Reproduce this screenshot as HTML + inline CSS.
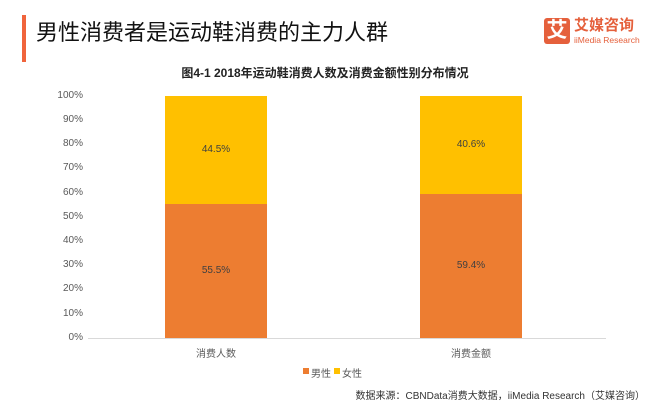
<!DOCTYPE html>
<html><head><meta charset="utf-8"><style>
body{margin:0;width:650px;height:404px;background:#fff;position:relative;overflow:hidden;font-family:"Liberation Sans","Noto Sans CJK SC",sans-serif}
.a{position:absolute}
.yl{position:absolute;right:567px;font-size:10px;color:#595959;line-height:12px}
.dl{position:absolute;width:102px;text-align:center;font-size:10px;color:#404040}
</style></head><body>
<div class="a" style="left:22px;top:15px;width:4px;height:47px;background:#f0643c"></div>
<div class="a" style="left:36px;top:18px;font-size:22px;color:#111;line-height:30px">男性消费者是运动鞋消费的主力人群</div>
<div class="a" style="left:544px;top:18px;width:26px;height:26px;background:#e5603c;border-radius:3px;color:#fff;font-size:21px;line-height:26px;text-align:center;font-weight:bold">艾</div>
<div class="a" style="left:574px;top:17px;font-size:15px;color:#e5603c;line-height:17px;font-weight:bold">艾媒咨询</div>
<div class="a" style="left:574px;top:35px;font-size:8.5px;color:#e5603c;line-height:10px">iiMedia Research</div>
<div class="a" style="left:0;width:650px;top:64px;text-align:center;font-size:12px;font-weight:bold;color:#222">图4-1 2018年运动鞋消费人数及消费金额性别分布情况</div>
<div class="yl" style="top:90px">100%</div><div class="yl" style="top:114px">90%</div><div class="yl" style="top:138px">80%</div><div class="yl" style="top:162px">70%</div><div class="yl" style="top:187px">60%</div><div class="yl" style="top:211px">50%</div><div class="yl" style="top:235px">40%</div><div class="yl" style="top:259px">30%</div><div class="yl" style="top:283px">20%</div><div class="yl" style="top:308px">10%</div><div class="yl" style="top:332px">0%</div>
<div class="a" style="left:88px;top:338px;width:518px;height:1px;background:#d9d9d9"></div>
<div class="a" style="left:165px;top:96px;width:102px;height:108px;background:#ffc000"></div>
<div class="a" style="left:165px;top:204px;width:102px;height:134px;background:#ed7d31"></div>
<div class="a" style="left:420px;top:96px;width:102px;height:98px;background:#ffc000"></div>
<div class="a" style="left:420px;top:194px;width:102px;height:144px;background:#ed7d31"></div>
<div class="dl" style="left:165px;top:144px">44.5%</div>
<div class="dl" style="left:165px;top:265px">55.5%</div>
<div class="dl" style="left:420px;top:139px">40.6%</div>
<div class="dl" style="left:420px;top:260px">59.4%</div>
<div class="dl" style="left:165px;top:345px;color:#595959">消费人数</div>
<div class="dl" style="left:420px;top:345px;color:#595959">消费金额</div>
<div class="a" style="left:303px;top:368px;width:6px;height:6px;background:#ed7d31"></div>
<div class="a" style="left:311px;top:365px;font-size:10px;color:#595959">男性</div>
<div class="a" style="left:334px;top:368px;width:6px;height:6px;background:#ffc000"></div>
<div class="a" style="left:342px;top:365px;font-size:10px;color:#595959">女性</div>
<div class="a" style="right:5px;top:387px;font-size:10px;color:#333">数据来源：CBNData消费大数据，iiMedia Research（艾媒咨询）</div>
</body></html>
